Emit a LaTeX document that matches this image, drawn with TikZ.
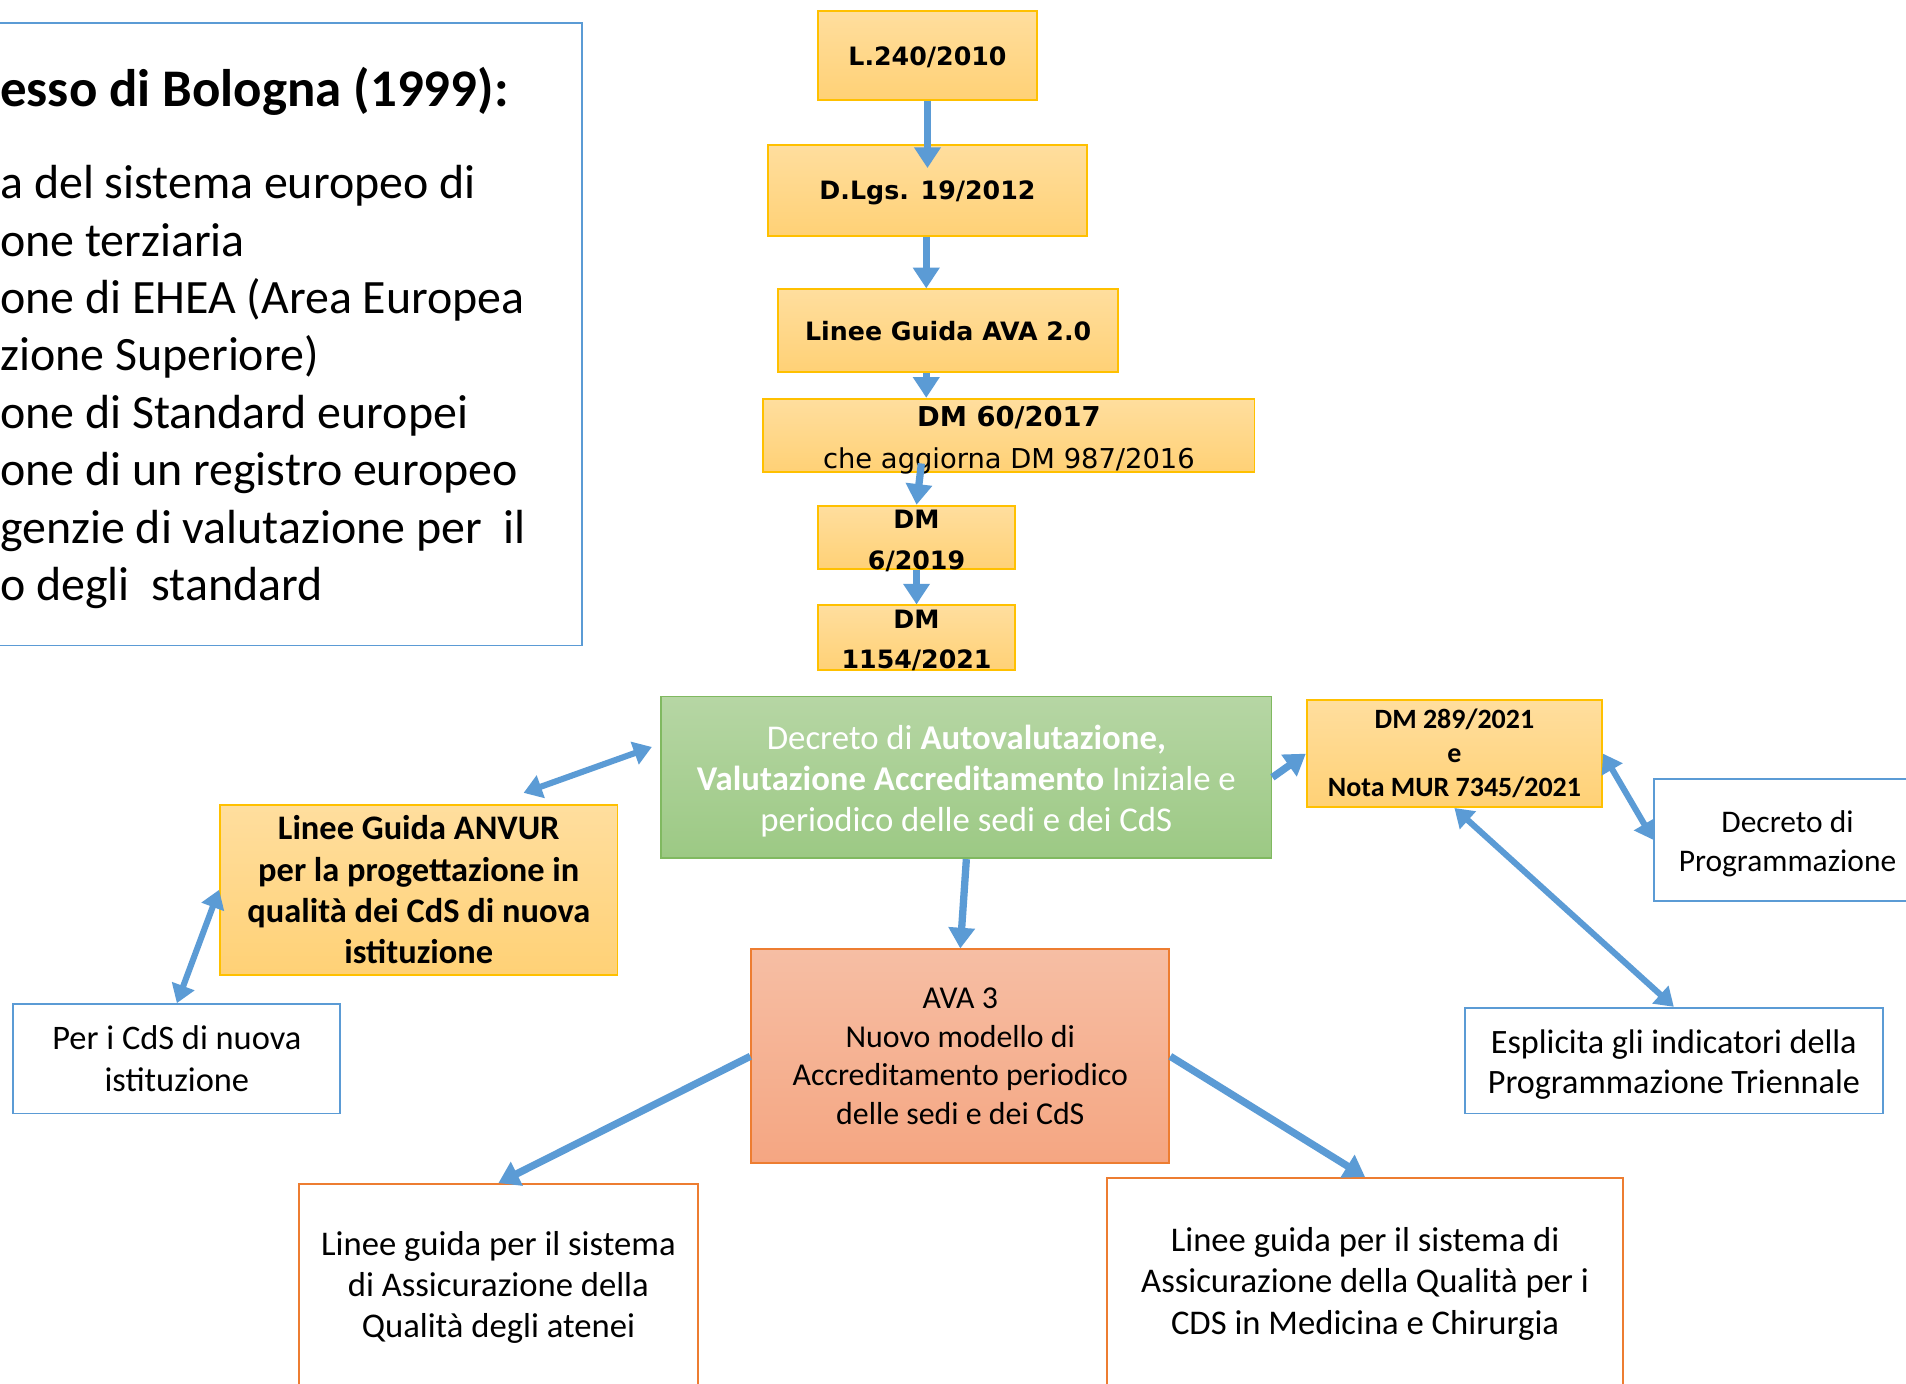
\documentclass[tikz,border=0pt]{standalone}
\usepackage{fontspec}
\setmainfont{Carlito}
\newfontfamily\verdana{DejaVu Sans}
\usetikzlibrary{arrows.meta,calc}
\definecolor{BluFreccia}{RGB}{91,155,213}
\definecolor{OroBordo}{RGB}{255,192,0}
\definecolor{OroAlto}{RGB}{255,222,158}
\definecolor{OroBasso}{RGB}{255,209,118}
\definecolor{VerdeAlto}{RGB}{182,214,164}
\definecolor{VerdeBasso}{RGB}{156,201,132}
\definecolor{VerdeBordo}{RGB}{128,185,96}
\definecolor{SalmoneAlto}{RGB}{246,190,164}
\definecolor{SalmoneBasso}{RGB}{245,166,130}
\definecolor{ArancioBordo}{RGB}{237,125,49}
\newcommand{\vbfont}{\verdana\bfseries\fontsize{20.8}{33}\selectfont}
\newcommand{\testo}[2]{\fontsize{#1}{#2}\selectfont}
\newcommand{\spinta}[1]{\rule{0pt}{#1}}
\tikzset{
  box/.style={draw, inner sep=0pt, align=center, line width=1.5pt},
  goldbox/.style={box, draw=OroBordo, top color=OroAlto, bottom color=OroBasso},
  bluebox/.style={box, draw=BluFreccia, fill=white},
  orangebox/.style={box, draw=ArancioBordo, fill=white},
  unariga/.style={text height=16pt, text depth=0pt},
  scritta/.style={inner sep=0pt, align=center},
  freccia/.style={-{Triangle[width=21pt,length=17pt]}, line width=6pt, draw=BluFreccia},
  doppia/.style={{Triangle[width=19pt,length=15pt]}-{Triangle[width=19pt,length=15pt]}, line width=5pt, draw=BluFreccia},
  riga/.style={anchor=base west, inner sep=0pt}
}

\begin{document}
\begin{tikzpicture}[x=1pt,y=-1pt]
  \path[use as bounding box, fill=white] (0,0) rectangle (1568,1138);

  % Processo di Bologna
  \node[bluebox, minimum width=500pt, minimum height=512pt] (bologna) at (229,275) {};
  \node[riga, font=\bfseries\testo{43.5}{52}] (titolo) at (0,88) {esso di Bologna (1999):};
  \foreach \r [count=\i from 0] in {a del sistema europeo di, one terziaria,
      one di EHEA (Area Europea, zione Superiore), one di Standard europei,
      one di un registro europeo, genzie di valutazione per \ il, o degli \ standard}
    \node[riga, font=\testo{39.4}{47}] (punto\i) at (0,{163.5+47.2*\i}) {\r};

  % colonna centrale
  \node[goldbox, unariga, font=\vbfont, minimum width=180pt, minimum height=73pt] (l240) at (763,45.5) {L.240/2010};
  \node[goldbox, unariga, font=\vbfont, minimum width=262pt, minimum height=75pt] (dlgs) at (763,156.5) {D.Lgs. 19/2012};
  \node[goldbox, unariga, font=\vbfont, minimum width=280pt, minimum height=68pt] (ava2) at (780,272) {Linee Guida AVA 2.0};
  \node[goldbox, minimum width=404pt, minimum height=60pt] (dm60) at (830,358) {};
  \node[scritta, font=\verdana\testo{22.5}{34}] (dm60testo) at ($(dm60.center)+(0,4)$)
    {\textbf{DM 60/2017}\\che aggiorna DM 987/2016};
  \node[goldbox, minimum width=162pt, minimum height=52pt] (dm6) at (754,442) {};
  \node[scritta, font=\vbfont] (dm6testo) at ($(dm6.center)+(0,3)$) {DM\\6/2019};
  \node[goldbox, minimum width=162pt, minimum height=53pt] (dm1154) at (754,524.5) {};
  \node[scritta, font=\vbfont] (dm1154testo) at ($(dm1154.center)+(0,2.5)$) {DM\\1154/2021};

  \node[box, draw=VerdeBordo, top color=VerdeAlto, bottom color=VerdeBasso, text=white,
    font=\testo{28.6}{34}, minimum width=502pt, minimum height=133pt] (decreto) at (795,639.5)
    {\spinta{26pt}Decreto di \textbf{Autovalutazione,}\\\textbf{Valutazione Accreditamento} Iniziale e\\periodico delle sedi e dei CdS};
  \node[box, draw=ArancioBordo, top color=SalmoneAlto, bottom color=SalmoneBasso,
    font=\testo{26.2}{31.7}, minimum width=344pt, minimum height=176pt] (ava3) at (790,869)
    {AVA 3\\Nuovo modello di\\Accreditamento periodico\\delle sedi e dei CdS};

  % lato destro
  \node[goldbox, font=\bfseries\testo{23}{28}, minimum width=243pt, minimum height=88pt] (dm289) at (1196.5,620)
    {DM 289/2021\\e\\Nota MUR 7345/2021};
  \node[bluebox, font=\testo{25.9}{32}, minimum width=219pt, minimum height=100pt] (progr) at (1470.5,691)
    {\spinta{24.5pt}Decreto di\\Programmazione};
  \node[bluebox, font=\testo{28.1}{33}, minimum width=344pt, minimum height=87pt] (espl) at (1377,872.5)
    {\spinta{26pt}Esplicita gli indicatori della\\Programmazione Triennale};

  % lato sinistro
  \node[goldbox, font=\bfseries\testo{28.3}{34}, minimum width=327pt, minimum height=140pt] (anvur) at (344.5,732)
    {Linee Guida ANVUR\\per la progettazione in\\qualità dei CdS di nuova\\istituzione};
  \node[bluebox, font=\testo{28.3}{34}, minimum width=269pt, minimum height=90pt] (nuovi) at (145.5,871)
    {Per i CdS di nuova\\istituzione};

  % linee guida in basso
  \node[orangebox, font=\testo{28.5}{34}, minimum width=328pt, minimum height=170pt] (atenei) at (410,1059)
    {Linee guida per il sistema\\di Assicurazione della\\Qualità degli atenei};
  \node[orangebox, font=\testo{28.5}{34}, minimum width=424pt, minimum height=174pt] (medicina) at (1123,1056)
    {Linee guida per il sistema di\\Assicurazione della Qualità per i\\CDS in Medicina e Chirurgia};

  % frecce
  \draw[freccia] (l240.south) -- ($(dlgs.north)+(0,20)$);
  \draw[freccia] ($(dlgs.south)+(-1,0)$) -- ($(dlgs.south |- ava2.north)+(-1,0)$);
  \draw[freccia] ($(dlgs.south |- ava2.south)+(-1,0)$) -- ($(dlgs.south |- dm60.north)+(-1,0)$);
  \draw[freccia] ($(dm6.north)+(4,-34)$) -- (dm6.north);
  \draw[freccia] (dm6.south) -- (dm1154.north);
  \draw[freccia] (decreto.south) -- (ava3.north);
  \draw[freccia] (decreto.east) -- (dm289.west);
  \draw[doppia] (dm289.east) -- (progr.west);
  \draw[doppia] (dm289.south) -- (espl.north);
  \draw[doppia] ($(decreto.west)+(-7,-25)$) -- ($(anvur.north east)+(-78,-9)$);
  \draw[doppia] (anvur.west) -- (nuovi.north);
  \draw[freccia] (ava3.west) -- (atenei.north);
  \draw[freccia] (ava3.east) -- (medicina.north);
\end{tikzpicture}
\end{document}
